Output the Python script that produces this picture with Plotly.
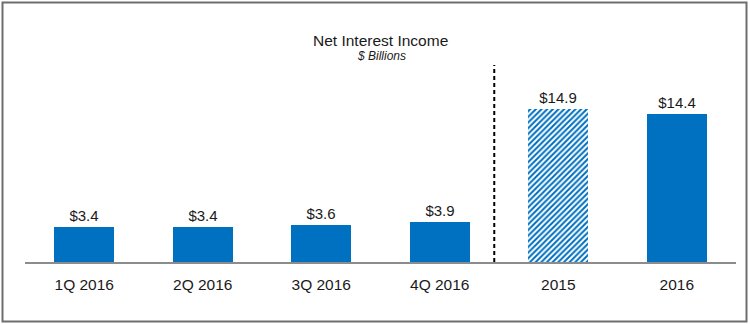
import plotly.graph_objects as go

categories = ["1Q 2016", "2Q 2016", "3Q 2016", "4Q 2016", "2015", "2016"]
values = [3.4, 3.4, 3.6, 3.9, 14.9, 14.4]
hatched = [False, False, False, False, True, False]

BLUE = "#0070C0"
FONT = "Liberation Sans, Arial, sans-serif"

fig = go.Figure()
fig.add_trace(go.Bar(
    x=list(range(len(categories))),
    y=values,
    width=0.505,
    marker=dict(
        color=BLUE,
        line=dict(width=0),
        pattern=dict(
            shape=[("/" if h else "") for h in hatched],
            fillmode="replace",
            fgcolor=[BLUE] * len(categories),
            bgcolor=["white"] * len(categories),
            size=4,
            solidity=0.5,
        ),
    ),
    text=[f"${v:.1f}" for v in values],
    textposition="outside",
    cliponaxis=False,
    textfont=dict(family=FONT, size=15, color="#1a1a1a"),
    hoverinfo="skip",
))

fig.update_layout(
    width=750, height=324,
    margin=dict(l=25, r=14, t=60, b=62),
    paper_bgcolor="white", plot_bgcolor="white",
    showlegend=False,
    bargap=0,
    font=dict(family=FONT, size=15, color="#1a1a1a"),
    xaxis=dict(
        tickmode="array", tickvals=list(range(len(categories))), ticktext=categories,
        range=[-0.5, len(categories) - 0.5],
        showgrid=False, zeroline=False,
        showline=True, linecolor="#8c8c8c", linewidth=2,
        ticks="", tickfont=dict(family=FONT, size=15.5, color="#1a1a1a"),
        ticklabelstandoff=7,
        fixedrange=True,
    ),
    yaxis=dict(range=[0, 19.67], visible=False, fixedrange=True),
    shapes=[
        dict(type="rect", xref="paper", yref="paper", x0=-22.5/711, x1=(746.5-25)/711,
             y0=(262-321.5)/202, y1=(262-2.5)/202,
             line=dict(color="#6e6e6e", width=2), fillcolor="rgba(0,0,0,0)", layer="below"),
        dict(type="line", xref="x", yref="paper", x0=3.46, x1=3.46, y0=0, y1=(262-65)/202,
             line=dict(color="black", width=2, dash="4px,3px")),
    ],
    annotations=[
        dict(text="Net Interest Income", xref="paper", yref="paper", x=(380-25)/711,
             y=(262-29.5)/202, showarrow=False, font=dict(family=FONT, size=15.5, color="#1a1a1a")),
        dict(text="<i>$ Billions</i>", xref="paper", yref="paper", x=(381-25)/711,
             y=(262-47.5)/202, showarrow=False, font=dict(family=FONT, size=12, color="#1a1a1a")),
    ],
)

fig.write_html("out.html")
